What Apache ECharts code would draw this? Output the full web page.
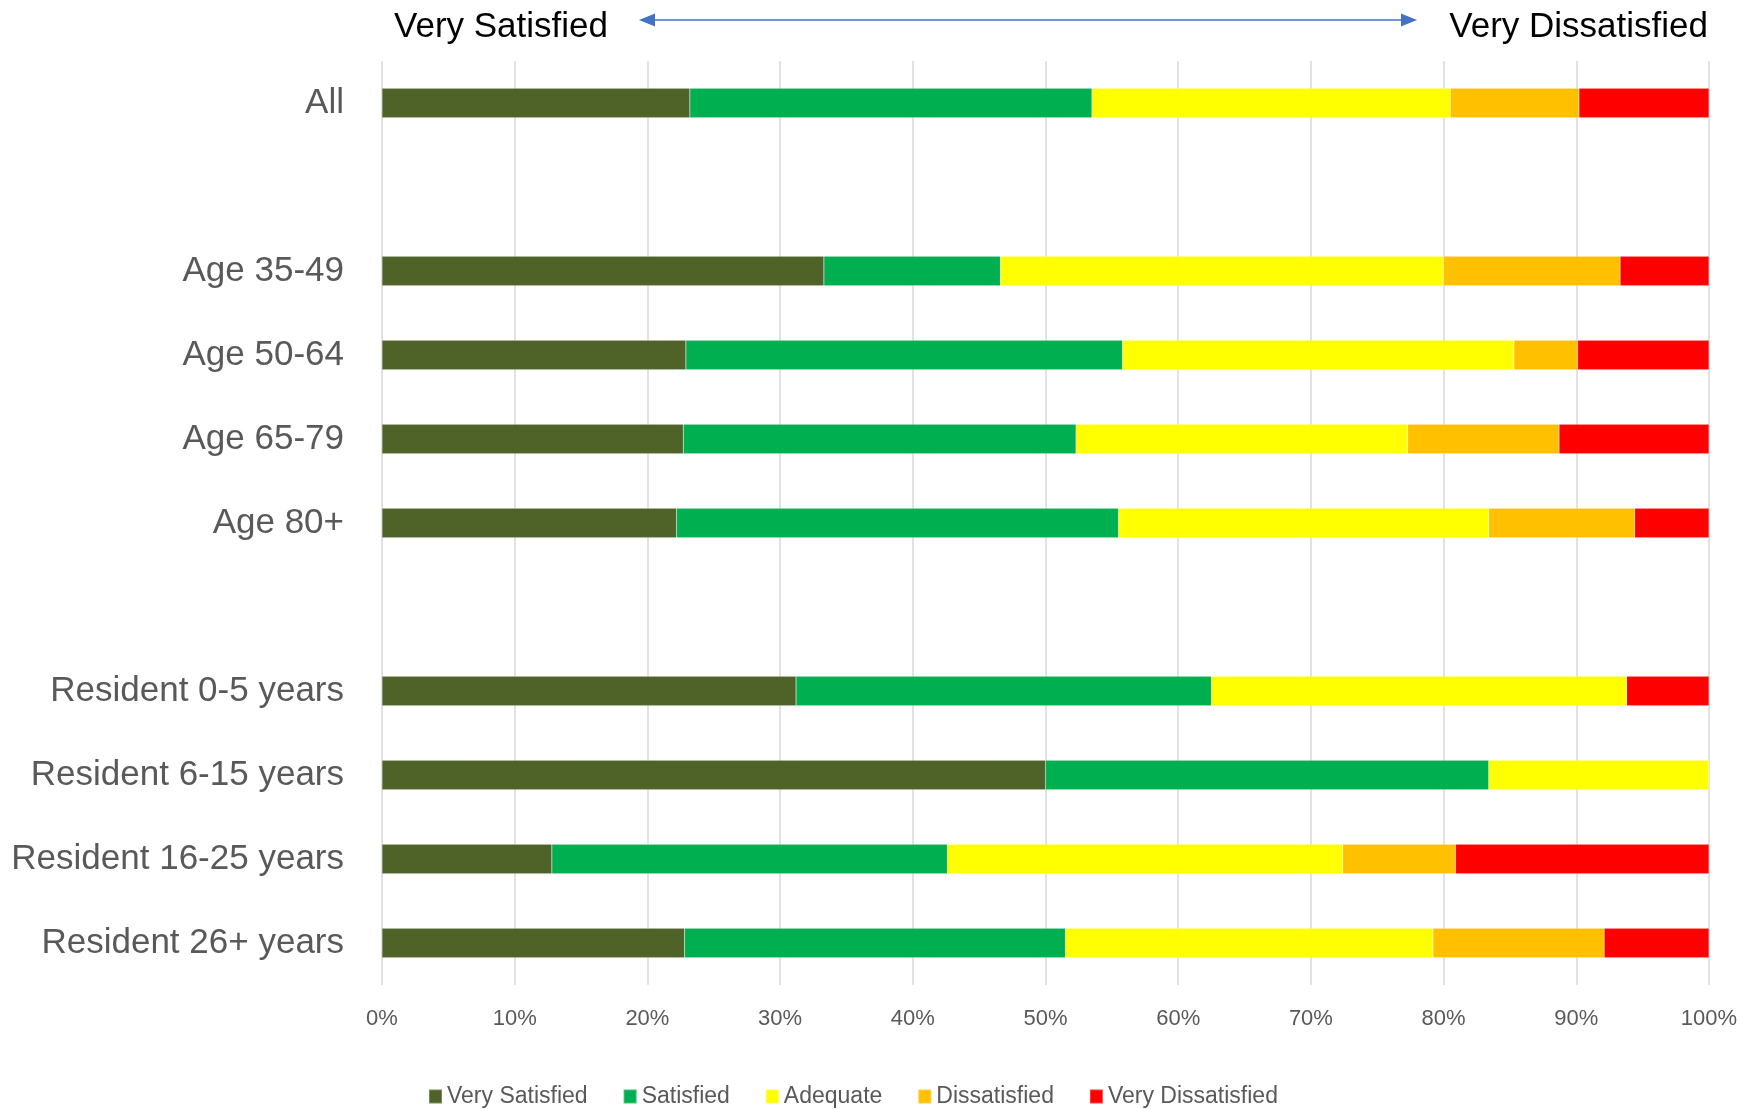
<!DOCTYPE html>
<html>
<head>
<meta charset="utf-8">
<script src="https://cdn.jsdelivr.net/npm/echarts@6/dist/echarts.min.js"></script>
<style>
html,body{margin:0;padding:0;background:#fff;}
#chart{width:1758px;height:1109px;}
</style>
</head>
<body>
<div id="chart"></div>
<script>
const categories = ['All', ' ', 'Age 35-49', 'Age 50-64', 'Age 65-79', 'Age 80+', '  ',
  'Resident 0-5 years', 'Resident 6-15 years', 'Resident 16-25 years', 'Resident 26+ years'];
const seriesNames = ['Very Satisfied', 'Satisfied', 'Adequate', 'Dissatisfied', 'Very Dissatisfied'];
const verySatisfied    = [23.2, null, 33.3, 22.9, 22.7, 22.2, null, 31.2, 50.0, 12.8, 22.8];
const satisfied        = [30.3, null, 13.3, 32.9, 29.6, 33.3, null, 31.3, 33.4, 29.8, 28.7];
const adequate         = [27.0, null, 33.4, 29.5, 25.0, 27.9, null, 31.3, 16.6, 29.8, 27.7];
const dissatisfied     = [9.7,  null, 13.3, 4.8,  11.4, 11.0, null, 0,    0,    8.5,  12.9];
const veryDissatisfied = [9.8,  null, 6.7,  9.9,  11.3, 5.6,  null, 6.2,  0,    19.1, 7.9];
const tickLabels = ['0%', '10%', '20%', '30%', '40%', '50%', '60%', '70%', '80%', '90%', '100%'];
const colors = ['#4F6228', '#00B050', '#FFFF00', '#FFC000', '#FF0000'];

const values = [verySatisfied, satisfied, adequate, dissatisfied, veryDissatisfied];
const FONT = '"Liberation Sans", Arial, sans-serif';

const chart = echarts.init(document.getElementById('chart'));
chart.setOption({
  animation: false,
  backgroundColor: '#ffffff',
  color: colors,
  grid: { left: 382, right: 49, top: 61, bottom: 124, containLabel: false },
  legend: {
    data: seriesNames,
    top: 1085,
    left: 428,
    padding: 0,
    itemWidth: 13,
    itemHeight: 14,
    itemGap: 35,
    icon: 'rect',
    textStyle: { fontFamily: FONT, fontSize: 23, color: '#595959' }
  },
  xAxis: {
    type: 'value',
    min: 0,
    max: 100,
    interval: 10,
    axisLine: { show: false },
    axisTick: { show: false },
    splitLine: { show: true, lineStyle: { color: '#D9D9D9', width: 1.5 } },
    axisLabel: {
      margin: 23,
      fontFamily: FONT,
      fontSize: 22,
      color: '#595959',
      formatter: function (v) { return tickLabels[Math.round(v / 10)]; }
    }
  },
  yAxis: {
    type: 'category',
    data: categories,
    inverse: true,
    axisLine: { show: false },
    axisTick: { show: false },
    splitLine: { show: false },
    axisLabel: { margin: 38, fontFamily: FONT, fontSize: 35, color: '#595959' }
  },
  series: seriesNames.map(function (name, i) {
    return {
      name: name,
      type: 'bar',
      stack: 'total',
      barWidth: '35%',
      data: values[i],
      itemStyle: { color: colors[i], borderColor: 'rgba(255,255,255,0.25)', borderWidth: 0.5 }
    };
  }),
  graphic: [
    { type: 'text', left: 394, top: 10,
      style: { text: 'Very Satisfied', font: '35px ' + FONT, fill: '#000000' } },
    { type: 'text', right: 50, top: 10,
      style: { text: 'Very Dissatisfied', font: '35px ' + FONT, fill: '#000000', textAlign: 'right' } },
    { type: 'line', shape: { x1: 652, y1: 20, x2: 1404, y2: 20 },
      style: { stroke: '#4472C4', lineWidth: 1.5 } },
    { type: 'polygon', shape: { points: [[639, 20], [655, 13.5], [655, 26.5]] },
      style: { fill: '#4472C4' } },
    { type: 'polygon', shape: { points: [[1417, 20], [1401, 13.5], [1401, 26.5]] },
      style: { fill: '#4472C4' } }
  ]
});
</script>
</body>
</html>
